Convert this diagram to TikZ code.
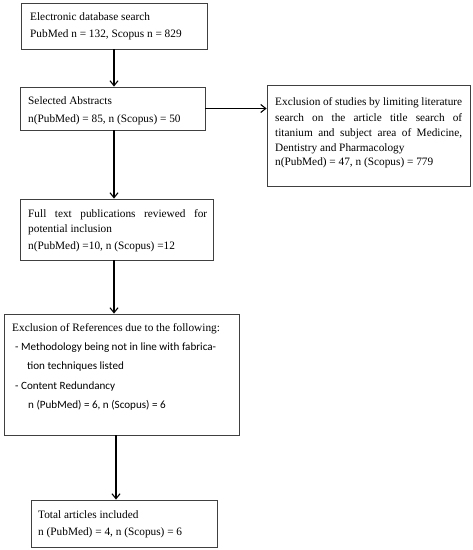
\documentclass[tikz,border=0pt]{standalone}
\usepackage{fontspec}
\setmainfont{Liberation Serif}
\newfontfamily\calib{Carlito}
\usetikzlibrary{arrows.meta}
\begin{document}
\begin{tikzpicture}[x=1pt,y=-1pt,
  box/.style={draw=black!75,line width=0.8pt,inner sep=0pt},
  txt/.style={anchor=base west,inner sep=0pt,font=\fontsize{11.3}{13}\selectfont},
  stxt/.style={anchor=base west,inner sep=0pt,font=\calib\fontsize{11.1}{13}\selectfont},
  arr/.style={line width=1.2pt,-{Straight Barb[length=5pt,width=8pt,line width=1.1pt]}}]
\useasboundingbox (0,0) rectangle (473,550);
% boxes
\node[box,minimum width=186pt,minimum height=46pt] (b1) at (114,26) {};
\node[box,minimum width=185pt,minimum height=43pt] (b2) at (112.5,108.5) {};
\node[box,minimum width=203pt,minimum height=101pt] (b3) at (368.5,135.5) {};
\node[box,minimum width=193pt,minimum height=61pt] (b4) at (116.5,229.5) {};
\node[box,minimum width=235pt,minimum height=121pt] (b5) at (121.5,374.5) {};
\node[box,minimum width=186pt,minimum height=47pt] (b6) at (124,523.5) {};
% texts
\node[txt] (t1a) at (30,20) {Electronic database search};
\node[txt] (t1b) at (30,37) {PubMed n = 132, Scopus n = 829};
\node[txt] (t2a) at (28,104) {Selected Abstracts};
\node[txt] (t2b) at (28,122) {n(PubMed) = 85, n (Scopus) = 50};
\node[txt] (t3a) at (275,105) {\makebox[187pt][s]{Exclusion of studies by limiting literature}};
\node[txt] (t3b) at (275,121) {\makebox[187pt][s]{search on the article title search of}};
\node[txt] (t3c) at (275,136) {\makebox[187pt][s]{titanium and subject area of Medicine,}};
\node[txt] (t3d) at (275,151) {Dentistry and Pharmacology};
\node[txt] (t3e) at (275,165) {n(PubMed) = 47, n (Scopus) = 779};
\node[txt] (t4a) at (28,217) {\makebox[179pt][s]{Full text publications reviewed for}};
\node[txt] (t4b) at (28,232) {potential inclusion};
\node[txt] (t4c) at (28,249) {n(PubMed) =10, n (Scopus) =12};
\node[txt] (t5a) at (12,331) {Exclusion of References due to the following:};
\node[stxt] (t5b) at (15,350) {- Methodology being not in line with fabrica-};
\node[stxt] (t5c) at (27,369) {tion techniques listed};
\node[stxt] (t5d) at (15,389) {- Content Redundancy};
\node[stxt] (t5e) at (28,408) {n (PubMed) = 6, n (Scopus) = 6};
\node[txt] (t6a) at (38,518) {Total articles included};
\node[txt] (t6b) at (38,535) {n (PubMed) = 4, n (Scopus) = 6};
% connectors
\coordinate (ax) at (114,0);
\coordinate (bx) at (116,0);
\draw[arr] (b1.south -| ax) -- (b2.north -| ax);
\draw[arr] (b2.south -| ax) -- (b4.north -| ax);
\draw[arr] (b4.south -| ax) -- (b5.north -| ax);
\draw[arr] (b5.south -| bx) -- (b6.north -| bx);
\draw[arr] (b2.east) -- (b3.west |- b2.east);
\end{tikzpicture}
\end{document}
